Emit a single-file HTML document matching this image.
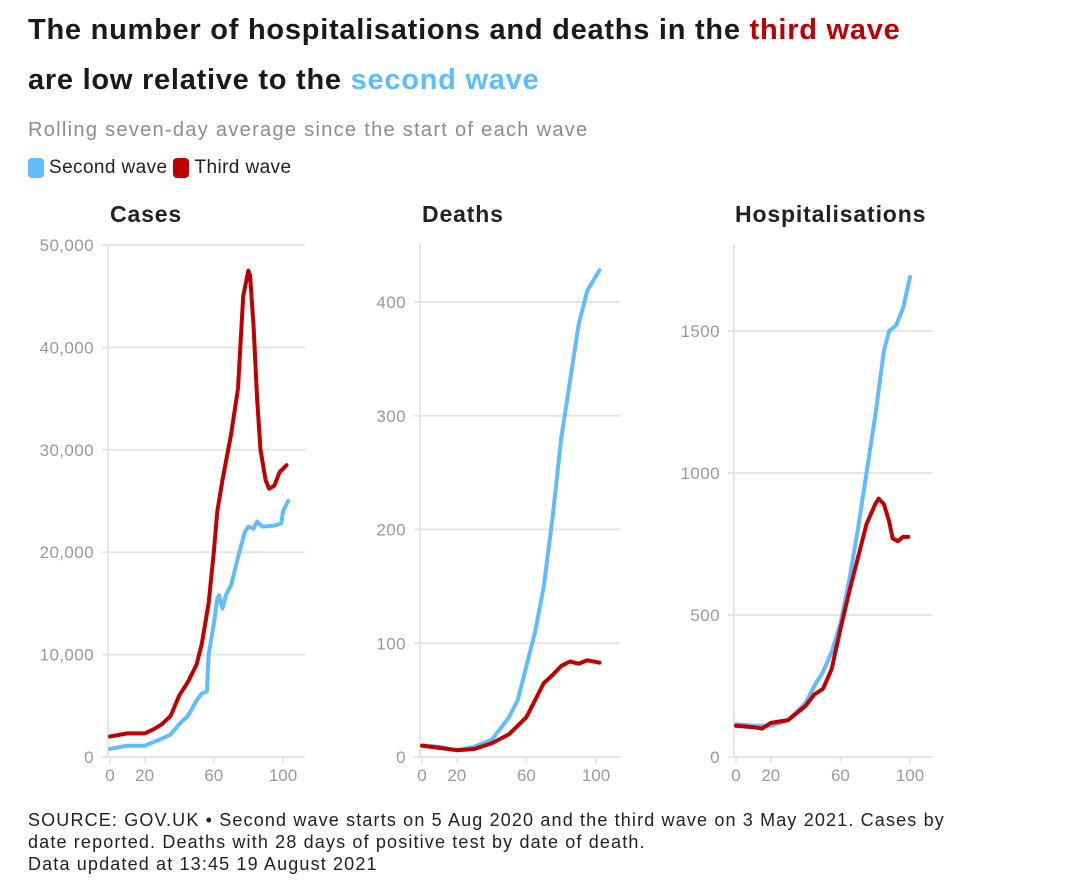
<!DOCTYPE html>
<html><head><meta charset="utf-8"><style>
body{margin:0;width:1080px;height:891px;background:#fff;font-family:"Liberation Sans",sans-serif;position:relative;overflow:hidden}
.t{position:absolute;left:28px;font-size:29px;font-weight:bold;color:#1a1a1a;letter-spacing:0.75px}
.sub{position:absolute;left:28px;top:119px;font-size:20px;color:#8c8c8c;letter-spacing:1.3px}
.leg{position:absolute;left:28px;top:157px;font-size:19px;color:#222;display:flex;align-items:center;letter-spacing:0.4px}
.sw{display:inline-block;width:16px;height:20px;border-radius:4px;margin-right:5px}
.foot{position:absolute;left:28px;top:809px;font-size:18px;color:#222;line-height:22px;letter-spacing:1.15px}
</style></head><body>
<div class="t" style="top:14px">The number of hospitalisations and deaths in the <span style="color:#c00000">third wave</span></div>
<div class="t" style="top:64px">are low relative to the <span style="color:#5fbcff">second wave</span></div>
<div class="sub">Rolling seven-day average since the start of each wave</div>
<div class="leg"><span class="sw" style="background:#5fbcff"></span><span>Second wave</span><span class="sw" style="background:#c00000;margin-left:6px"></span><span>Third wave</span></div>
<svg id="c" width="1080" height="891" style="position:absolute;left:0;top:0"></svg>
<div class="foot">SOURCE: GOV.UK • Second wave starts on 5 Aug 2020 and the third wave on 3 May 2021. Cases by<br>date reported. Deaths with 28 days of positive test by date of death.<br>Data updated at 13:45 19 August 2021</div>
<script>
const xTicks=[0,20,60,100];
const casesTicks=[0,10000,20000,30000,40000,50000];
const deathsTicks=[0,100,200,300,400];
const hospTicks=[0,500,1000,1500];
const casesSecondDays=[0,10,20,30,35,40,45,50,53,56,57,60,62,63,65,67,70,74,78,80,83,85,88,95,99,100,103];
const casesSecond=[800,1100,1100,1800,2200,3200,4000,5500,6200,6400,10000,13000,15500,15800,14500,15800,16800,19500,22000,22500,22300,23000,22500,22600,22800,24000,25000];
const casesThirdDays=[0,10,20,25,30,35,40,45,50,53,57,60,62,65,70,74,77,80,81,83,85,87,90,92,95,98,102];
const casesThird=[2000,2300,2300,2700,3200,4000,6000,7300,9000,11000,15000,20000,24000,27000,31500,36000,45000,47500,47000,42000,35000,30000,27000,26200,26500,27800,28500];
const deathsSecondDays=[0,10,20,30,40,45,50,55,60,65,70,75,80,85,90,95,102];
const deathsSecond=[10,9,6,9,15,25,35,50,80,110,150,210,280,330,380,410,428];
const deathsThirdDays=[0,10,20,30,40,50,60,65,70,75,80,85,90,95,102];
const deathsThird=[10,8,6,7,12,20,35,50,65,72,80,84,82,85,83];
const hospSecondDays=[0,10,20,30,40,45,50,55,60,65,70,75,80,85,88,92,96,100];
const hospSecond=[115,110,110,130,190,250,300,370,470,620,800,1000,1200,1430,1500,1520,1580,1690];
const hospThirdDays=[0,10,15,20,30,40,45,50,55,60,65,70,75,80,82,85,88,90,93,96,99];
const hospThird=[110,105,100,120,130,180,220,240,310,450,580,700,820,890,910,890,830,770,760,775,775];

const svg=document.getElementById('c');const NS='http://www.w3.org/2000/svg';
function mk(t,a){const e=document.createElementNS(NS,t);for(const k in a)e.setAttribute(k,a[k]);svg.appendChild(e);return e;}
const panels=[
 {name:'cases',title:'Cases',tx:110,x0:110,x1:283,gx1:305,y0:757,ymax:50000,ytop:245,ticks:casesTicks,fmt:v=>v.toLocaleString('en-US'),s:[[casesSecondDays,casesSecond,'#5fbcff'],[casesThirdDays,casesThird,'#c00000']]},
 {name:'deaths',title:'Deaths',tx:422,x0:422,x1:596,gx1:620,y0:757,ymax:400,ytop:302,ticks:deathsTicks,fmt:v=>String(v),s:[[deathsSecondDays,deathsSecond,'#5fbcff'],[deathsThirdDays,deathsThird,'#c00000']]},
 {name:'hospitalisations',title:'Hospitalisations',tx:735,x0:736,x1:910,gx1:932,y0:757,ymax:1500,ytop:331,ticks:hospTicks,fmt:v=>String(v),s:[[hospSecondDays,hospSecond,'#5fbcff'],[hospThirdDays,hospThird,'#c00000']]}
];
panels.forEach(p=>{
 const xs=d=>p.x0+(p.x1-p.x0)*d/100;
 const ys=v=>p.y0-(p.y0-p.ytop)*v/p.ymax;
 let t=mk('text',{x:p.tx,y:222,'font-size':23,'font-weight':'bold',fill:'#222','letter-spacing':'0.85'});t.textContent=p.title;
 
 
 const ax=mk('line',{x1:p.x0-2,x2:p.x0-2,y1:244,y2:p.y0,stroke:'#e6e6e6','stroke-width':2});
 
 
 p.ticks.forEach(v=>{
  const g=mk('line',{x1:p.x0-8,x2:p.gx1,y1:ys(v),y2:ys(v),stroke:'#e6e6e6','stroke-width':2});
  
  
  const l=mk('text',{x:p.x0-16,y:ys(v)+6,'font-size':17,fill:'#999','text-anchor':'end','letter-spacing':'0.4'});l.textContent=p.fmt(v);
  
  
 });
 xTicks.forEach(d=>{
  const tk=mk('line',{x1:xs(d),x2:xs(d),y1:p.y0,y2:p.y0+6,stroke:'#e6e6e6','stroke-width':2});
  
  
  const l=mk('text',{x:xs(d),y:p.y0+24,'font-size':17,fill:'#999','text-anchor':'middle'});l.textContent=d;
  
  
 });
 p.s.forEach(([ds,vs,col],i)=>{
  const pts=ds.map((d,j)=>xs(d).toFixed(1)+','+ys(vs[j]).toFixed(1)).join(' ');
  const pl=mk('polyline',{points:pts,fill:'none',stroke:col,'stroke-width':4,'stroke-linejoin':'round','stroke-linecap':'round'});
  
  
 });
});
</script>
</body></html>
